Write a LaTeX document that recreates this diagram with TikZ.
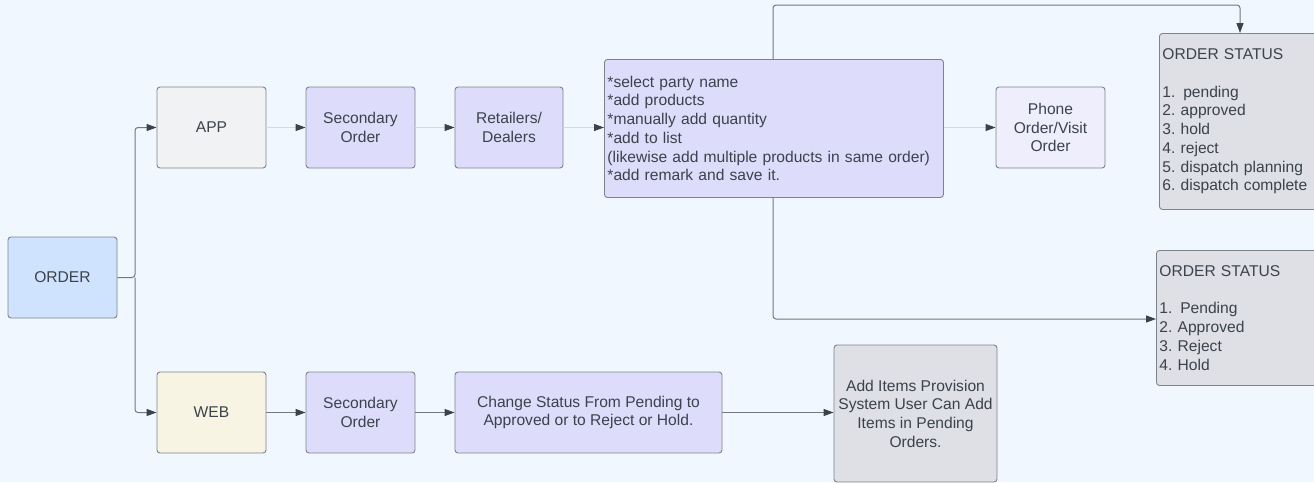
\documentclass[tikz,border=0pt]{standalone}
\usepackage{fontspec}
\setmainfont{Liberation Sans}
\usetikzlibrary{arrows.meta}

\definecolor{bgc}{HTML}{F1F7FE}
\definecolor{edgec}{HTML}{7D838C}
\definecolor{txtc}{HTML}{3B424B}
\definecolor{bluef}{HTML}{CFE3FE}
\definecolor{grayf}{HTML}{F1F2F4}
\definecolor{creamf}{HTML}{F7F4E3}
\definecolor{lavf}{HTML}{DDDDFB}
\definecolor{lavlightf}{HTML}{EEEEFC}
\definecolor{statusf}{HTML}{DEE0E5}
\definecolor{faintc}{HTML}{D3DAE3}
\definecolor{linec}{HTML}{737982}
\definecolor{tipc}{HTML}{3B424B}

\tikzset{
  box/.style={draw=edgec, line width=0.9pt, rounded corners=3pt, text=txtc,
    font=\fontsize{15.6}{18.7}\selectfont, align=center,
    minimum width=109pt, minimum height=81pt, inner sep=2pt},
  listbox/.style={box, align=left, anchor=north west, inner xsep=3pt},
  faint/.style={draw=faintc, line width=1pt,
    -{Triangle[length=10pt,width=7pt,color=tipc]}},
  flow/.style={draw=linec, line width=1pt, rounded corners=3pt,
    -{Triangle[length=10pt,width=7pt,color=tipc]}},
}

\begin{document}
\begin{tikzpicture}[x=1pt,y=-1pt]
  \clip (0,0) rectangle (1314,482);
  \fill[bgc] (0,0) rectangle (1314,482);

  % left column
  \node[box, fill=bluef] (order) at (62.5,277.5) {ORDER};
  \node[box, fill=grayf] (app) at (211.5,127.5) {APP};
  \node[box, fill=creamf] (web) at (211.5,412.5) {WEB};

  % app row
  \node[box, fill=lavf] (sec1) at (360.5,127.5) {Secondary\\Order};
  \node[box, fill=lavf, minimum width=108pt] (ret) at (509,127.5) {Retailers/\\Dealers};
  \node[listbox, fill=lavf, minimum width=339pt, minimum height=138pt,
        text width=333pt] (steps) at (604,59) {{*}select party name\\
    {*}add products\\
    {*}manually add quantity\\
    {*}add to list\\
    (likewise add multiple products in same order)\\
    {*}add remark and save it.};
  \node[box, fill=lavlightf] (phone) at (1050.5,127.5) {Phone\\Order/Visit\\Order};

  % status lists
  \node[listbox, fill=statusf, minimum width=190pt, minimum height=176pt,
        text width=184pt] (st1) at (1159,33) {ORDER STATUS\\[18.7pt]
    1.\,~pending\\
    2.~approved\\
    3.~hold\\
    4.~reject\\
    5.~dispatch planning\\
    6.~dispatch complete};
  \node[listbox, fill=statusf, minimum width=190pt, minimum height=135pt,
        text width=184pt] (st2) at (1156,250) {ORDER STATUS\\[18.7pt]
    1.\,~Pending\\
    2.~Approved\\
    3.~Reject\\
    4.~Hold};

  % web row
  \node[box, fill=lavf] (sec2) at (360.5,412.5) {Secondary\\Order};
  \node[box, fill=lavf, minimum width=267pt] (chg) at (588.5,412.5)
    {Change Status From Pending to\\Approved or to Reject or Hold.};
  \node[box, fill=statusf, minimum width=163pt, minimum height=137pt]
    (add) at (915.5,413.5)
    {Add Items Provision\\System User Can Add\\Items in Pending\\Orders.};

  % branch from ORDER
  \coordinate (split) at (135,277.5);
  \draw[flow] (order.east) -- (split) |- (app.west);
  \draw[flow] (split) |- (web.west);

  % app row connectors
  \draw[faint] (app) -- (sec1);
  \draw[faint] (sec1) -- (ret);
  \draw[faint] (ret.east) -- (ret.east -| steps.west);
  \draw[faint] (steps.east |- phone.west) -- (phone.west);

  % status connectors
  \coordinate (topturn) at (773,5);
  \draw[flow] (steps.north -| topturn) -- (topturn) -| (1240,33);
  \draw[flow] (steps.south -| topturn) |- (st2.west |- 0,319);

  % web row connectors
  \draw[flow] (web) -- (sec2);
  \draw[flow] (sec2) -- (chg);
  \draw[flow] (chg.east) -- (add.west |- chg.east);
\end{tikzpicture}
\end{document}
